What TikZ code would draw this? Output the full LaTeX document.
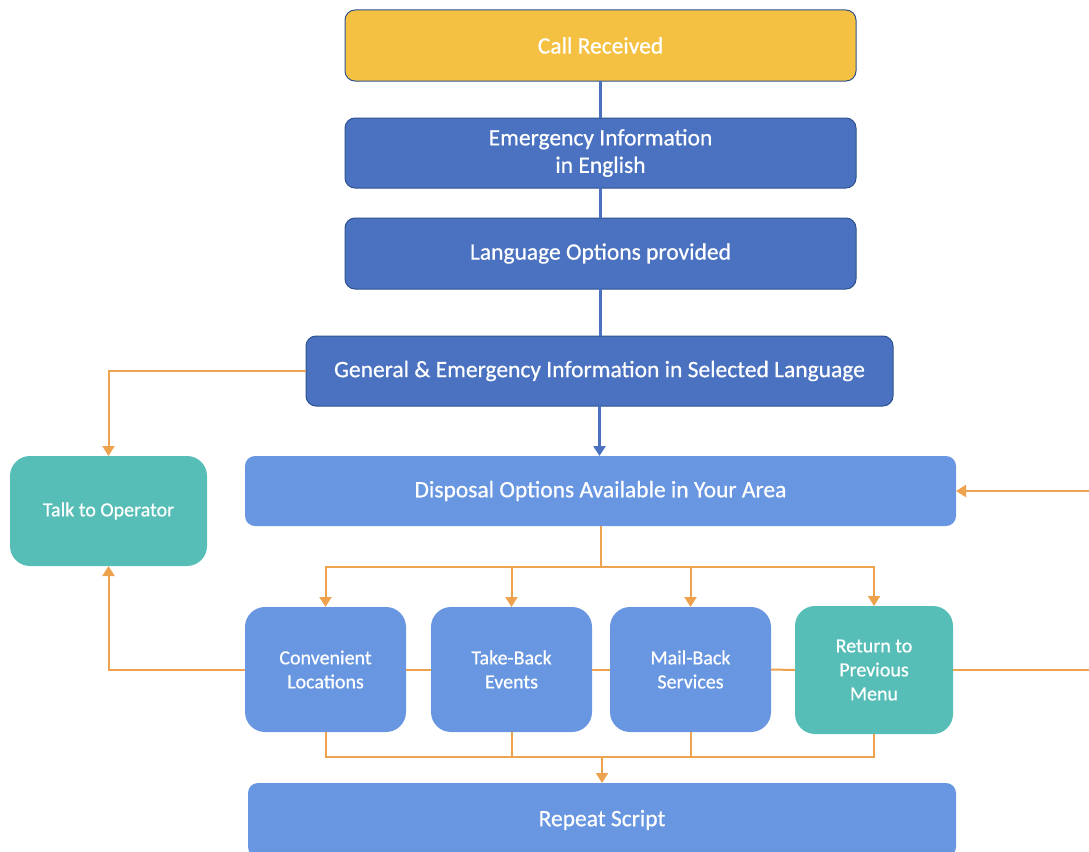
\documentclass[tikz,border=0pt]{standalone}
\usepackage{fontspec}
\setmainfont{Carlito}[FakeBold=0.6]
\usetikzlibrary{arrows.meta}
\definecolor{cyellow}{HTML}{F4C142}
\definecolor{cdark}{HTML}{4A72C0}
\definecolor{cborder}{HTML}{2F528F}
\definecolor{clight}{HTML}{6896E1}
\definecolor{cteal}{HTML}{56BEB7}
\definecolor{corange}{HTML}{EFA24D}
\begin{document}
\begin{tikzpicture}[x=1pt,y=-1pt,
  base/.style={rectangle, text=white, align=center, inner sep=0pt, outer sep=0pt},
  bigbox/.style={base, rounded corners=10pt, font=\fontsize{23.5}{27.5}\selectfont},
  darkbox/.style={bigbox, fill=cdark, draw=cborder, line width=1pt},
  smallbox/.style={base, rounded corners=20pt, font=\fontsize{20}{24}\selectfont},
  bline/.style={draw=cdark, line width=2.5pt},
  oline/.style={draw=corange, line width=2pt},
  arr/.style={-{Triangle[width=12pt,length=10pt]}}
]
\useasboundingbox (0,0) rectangle (1089,851);

\coordinate (rloop) at (1100,670);

\node[bigbox, fill=cyellow, draw=cborder, line width=1pt, minimum width=511pt, minimum height=71pt] (call) at (600.5,45.5) {Call Received};
\node[darkbox, minimum width=511pt, minimum height=70pt] (emerg) at (600.5,153) {Emergency Information\\in English};
\node[darkbox, minimum width=511pt, minimum height=71pt] (lang) at (600.5,253.5) {Language Options provided};
\node[darkbox, minimum width=587pt, minimum height=70pt] (gen) at (599.5,371) {General \& Emergency Information in Selected Language};
\node[bigbox, fill=clight, minimum width=711pt, minimum height=70pt] (disp) at (600.5,491) {Disposal Options Available in Your Area};
\node[smallbox, fill=cteal, minimum width=197pt, minimum height=110pt] (talk) at (108.5,511) {Talk to Operator};

\node[smallbox, fill=clight, minimum width=161pt, minimum height=125pt] (conv) at (325.5,669.5) {Convenient\\Locations};
\node[smallbox, fill=clight, minimum width=161pt, minimum height=125pt] (take) at (511.5,669.5) {Take-Back\\Events};
\node[smallbox, fill=clight, minimum width=161pt, minimum height=125pt] (mail) at (690.5,669.5) {Mail-Back\\Services};
\node[smallbox, fill=cteal, minimum width=158pt, minimum height=128pt] (ret) at (874,670) {Return to\\Previous\\Menu};
\node[bigbox, fill=clight, minimum width=708pt, minimum height=74pt] (rep) at (602,820) {Repeat Script};

% blue connectors
\draw[bline] (call.south) -- (emerg.north);
\draw[bline] (emerg.south) -- (lang.north);
\draw[bline] (lang.south) -- (gen.north -| lang.south);
\draw[bline, arr] (gen.south) -- (gen.south |- disp.north);

% orange connectors
\draw[oline, arr] (gen.west) -| (talk.north);
\coordinate (split) at (600.5,567);
\draw[oline] (disp.south) -- (split);
\draw[oline, arr] (split) -| (conv.north);
\draw[oline, arr] (split) -| (take.north);
\draw[oline, arr] (split) -| (mail.north);
\draw[oline, arr] (split) -| (ret.north);

\draw[oline, arr] (conv.west) -| (talk.south);
\draw[oline] (conv.east) -- (take.west);
\draw[oline] (take.east) -- (mail.west);
\draw[oline] (mail.east) -- (ret.west);
\draw[oline, arr] (ret.east) -- (rloop) |- (disp.east);

\coordinate (join) at (602,757);
\draw[oline] (conv.south) |- (join);
\draw[oline] (take.south) |- (join);
\draw[oline] (mail.south) |- (join);
\draw[oline] (ret.south) |- (join);
\draw[oline, arr] (join) -- (rep.north);
\end{tikzpicture}
\end{document}
